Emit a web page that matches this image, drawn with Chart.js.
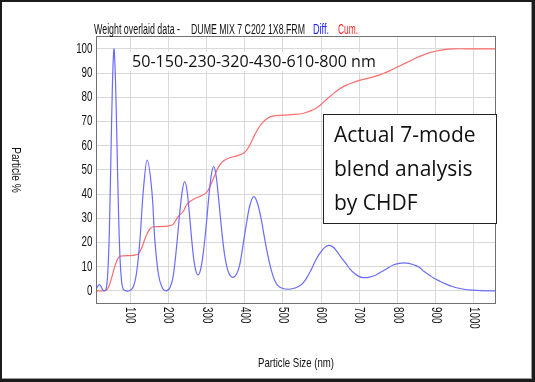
<!DOCTYPE html>
<html>
<head>
<meta charset="utf-8">
<script src="https://cdn.jsdelivr.net/npm/chart.js@4.4.1/dist/chart.umd.min.js"></script>
<style>
html,body{margin:0;padding:0;background:#fff;}
#wrap{width:535px;height:382px;position:relative;}
</style>
</head>
<body>
<div id="wrap"><canvas id="c" width="535" height="382"></canvas></div>
<script>
// ---- data ----
const xTickValues = [100,200,300,400,500,600,700,800,900,1000];
const yTickValues = [0,10,20,30,40,50,60,70,80,90,100];

const diffX = [10,15,20,25,30,37,42,46,50,54,58,62,66,70,74,78,82,90,100,109,117,126,135,145,157,165,174,183,194,205,213,223,230,237,243,249,256,261,267,272,278,285,292,300,307,313,319,325,332,340,348,356,363,370,379,387,396,405,414,424,433,443,452,461,470,478,487,500,516,532,548,561,574,587,600,610,620,630,639,652,665,676,687,699,710,727,744,759,774,789,804,817,830,844,857,870,883,896,911,926,939,952,970,996,1020,1058];
const diffY = [0.4,1.8,2.6,1.5,0.2,0.5,8,25,55,85,100,87,60,32,13,4,0.8,0,0.2,1.8,7.3,21,41.7,54,41.7,21,7.3,1.8,0,1.5,6,20,32,41.5,45.2,41.7,31,22,13,8.5,6.6,9,16,28,40,48,51.4,48,38,25,14.5,8.5,6.2,5.6,7,10.7,19,28,35.5,39,36.5,30,22,14.5,8.5,4.6,2.2,1,0.7,1.2,2.5,5,8.7,13,16.2,18,18.8,18.3,16.9,14,11.4,9,7.3,6,5.5,5.7,6.6,8,9.4,10.7,11.4,11.6,11.4,10.7,9.8,8,6.6,5.2,4,2.9,2.1,1.4,0.8,0.3,0.1,0];

const cumX = [10,30,38,45,52,60,67,74,85,100,115,122,130,138,146,153,161,180,200,213,225,239,248,257,270,283,300,309,317,330,341,352,365,378,400,411,422,435,448,460,474,500,530,552,566,578,590,600,615,630,648,665,683,700,722,744,761,778,800,822,843,865,883,900,920,943,1000,1058];
const cumY = [0,0,0.3,2,5.5,10,13,14.3,14.5,14.6,14.9,15.3,17.5,21,24,25.8,26.5,26.6,26.8,27.5,30.5,32.8,35.5,36.9,38.2,39,40.6,43,45.9,50.7,53.2,54.4,55.2,55.7,57.2,59.5,63,67,69.7,71.3,72.2,72.6,72.9,73.3,74,74.7,75.8,77,79.2,81.2,83.4,84.9,86,87,87.8,88.7,89.7,90.8,92.5,94.2,95.8,97.3,98.3,99,99.6,100,100,100];

const headerParts = ["Weight overlaid data -", "DUME MIX 7 C202 1X8.FRM", "Diff.", "Cum."];
const noteText = "50-150-230-320-430-610-800 nm";
const boxLines = ["Actual 7-mode", "blend analysis", "by CHDF"];
const yTitle = "Particle %";
const xTitle = "Particle Size (nm)";

// ---- chart ----
const SANS = "'Liberation Sans',Arial,sans-serif";
const SOFT = "'Open Sans','Noto Sans',sans-serif";
const NARROW_K = 0.7; // horizontal squeeze to mimic a narrow face

function pts(xs, ys){ return xs.map((x,i)=>({x:x,y:ys[i]})); }

// draw text squeezed along its own direction
function narrowText(ctx, text, x, y, k, align, rot){
  ctx.save();
  ctx.translate(x, y);
  if (rot) ctx.rotate(rot);
  ctx.scale(k, 1);
  ctx.textAlign = align;
  ctx.fillText(text, 0, 0);
  ctx.restore();
}

const decor = {
  id:'decor',
  beforeDraw(chart){
    const ctx = chart.ctx;
    ctx.save();
    ctx.fillStyle = '#1c1c1c';
    ctx.fillRect(0,0,535,382);
    ctx.fillStyle = '#9a9a9a';
    ctx.fillRect(2,2,530,377);
    ctx.fillStyle = '#ffffff';
    ctx.fillRect(2,2,529,376);
    ctx.restore();
  },
  afterDraw(chart){
    const ctx = chart.ctx;
    const a = chart.chartArea;
    const xs = chart.scales.x, ys = chart.scales.y;
    ctx.save();
    // plot border
    ctx.strokeStyle = '#707070';
    ctx.lineWidth = 1;
    ctx.strokeRect(Math.round(a.left)+0.5, Math.round(a.top)+0.5, Math.round(a.right-a.left)-1, Math.round(a.bottom-a.top)-1);

    // header
    ctx.font = '14px ' + SANS;
    ctx.textBaseline = 'alphabetic';
    const hx = [94, 191, 313, 338];
    const hw = [86, 114, 16, 20];
    const hc = ['#111','#111','#2020ff','#ff2020'];
    headerParts.forEach((t,i)=>{
      ctx.fillStyle = hc[i];
      const k = hw[i] / ctx.measureText(t).width;
      narrowText(ctx, t, hx[i], 34, k, 'left', 0);
    });

    // y tick labels
    ctx.font = '14px ' + SANS;
    ctx.fillStyle = '#111';
    ctx.textBaseline = 'middle';
    yTickValues.forEach(v=>{
      narrowText(ctx, String(v), a.left - 3.5, ys.getPixelForValue(v), NARROW_K, 'right', 0);
    });

    // x tick labels, rotated clockwise
    xTickValues.forEach(v=>{
      narrowText(ctx, String(v), xs.getPixelForValue(v), a.bottom + 3, NARROW_K, 'left', Math.PI/2);
    });

    // y title rotated clockwise
    ctx.font = '13px ' + SANS;
    narrowText(ctx, yTitle, 16, (a.top+a.bottom)/2, 0.78, 'center', Math.PI/2);

    // x title
    narrowText(ctx, xTitle, (a.left+a.right)/2, 363, 0.74, 'center', 0);

    // note at top
    ctx.fillStyle = '#ffffff';
    ctx.fillRect(129, 52, 250, 19);
    let fs = 16;
    ctx.font = fs + 'px ' + SOFT;
    const w = ctx.measureText(noteText).width;
    fs = fs * 244 / w;
    ctx.font = fs.toFixed(2) + 'px ' + SOFT;
    ctx.fillStyle = '#111';
    ctx.textAlign = 'left';
    ctx.textBaseline = 'middle';
    ctx.fillText(noteText, 132, 62);

    // text box
    ctx.fillStyle = '#ffffff';
    ctx.fillRect(323.5, 114.5, 173, 109);
    ctx.strokeStyle = '#222';
    ctx.lineWidth = 1;
    ctx.strokeRect(323.5, 114.5, 173, 109);
    ctx.font = '21px ' + SOFT;
    ctx.fillStyle = '#111';
    ctx.textBaseline = 'alphabetic';
    ctx.textAlign = 'left';
    const by = [141.5, 175.5, 209.5];
    boxLines.forEach((t,i)=> ctx.fillText(t, 334, by[i]));
    ctx.restore();
  }
};

new Chart(document.getElementById('c'), {
  type:'line',
  data:{
    datasets:[
      { label:'Diff.', data:pts(diffX,diffY), borderColor:'#6b6bff', borderWidth:1.2, pointRadius:0, tension:0.35, fill:false },
      { label:'Cum.', data:pts(cumX,cumY), borderColor:'#ff6b6b', borderWidth:1.2, pointRadius:0, tension:0.35, fill:false }
    ]
  },
  options:{
    responsive:false,
    animation:false,
    devicePixelRatio:1,
    layout:{ padding:{ left:0, right:39, top:36, bottom:0 } },
    plugins:{ legend:{display:false}, tooltip:{enabled:false}, title:{display:false} },
    scales:{
      x:{
        type:'linear', min:11, max:1058,
        afterBuildTicks: s => { s.ticks = xTickValues.map(v=>({value:v})); },
        afterFit: s => { s.height = 78; },
        ticks:{ display:false },
        grid:{ color:'#d9d9d9', lineWidth:1, drawTicks:false },
        border:{ display:false }
      },
      y:{
        type:'linear', min:-5.4, max:105.3,
        afterBuildTicks: s => { s.ticks = yTickValues.map(v=>({value:v})); },
        afterFit: s => { s.width = 96; },
        ticks:{ display:false },
        grid:{ color:'#d9d9d9', lineWidth:1, drawTicks:false },
        border:{ display:false }
      }
    }
  },
  plugins:[decor]
});
</script>
</body>
</html>
